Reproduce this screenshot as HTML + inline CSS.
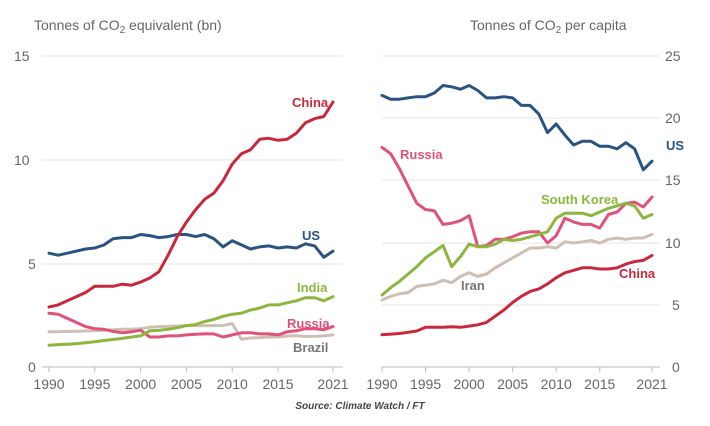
<!DOCTYPE html>
<html><head><meta charset="utf-8"><style>
body{margin:0;background:#fff;}
svg text{font-family:"Liberation Sans",sans-serif;}
</style></head><body>
<svg id="s" width="710" height="421" xmlns="http://www.w3.org/2000/svg">
<g fill="#666" font-size="14">
<text x="34" y="30">Tonnes of CO<tspan font-size="10" dy="3">2</tspan><tspan dy="-3"> equivalent (bn)</tspan></text>
<text x="470" y="30">Tonnes of CO<tspan font-size="10" dy="3">2</tspan><tspan dy="-3"> per capita</tspan></text>
</g>
<g stroke="#e6e6e6" stroke-width="1">
<line x1="42" x2="343" y1="56" y2="56"/><line x1="42" x2="343" y1="160" y2="160"/><line x1="42" x2="343" y1="264" y2="264"/>
<line x1="382" x2="660" y1="56" y2="56"/><line x1="382" x2="660" y1="118" y2="118"/><line x1="382" x2="660" y1="180" y2="180"/><line x1="382" x2="660" y1="243" y2="243"/><line x1="382" x2="660" y1="305" y2="305"/>
</g>
<g stroke="#bbb" stroke-width="1">
<line x1="42" x2="343" y1="367" y2="367"/><line x1="382" x2="660" y1="367" y2="367"/>
</g>
<g fill="#666" font-size="14">
<text x="14" y="61">15</text><text x="14" y="165">10</text><text x="28" y="269">5</text><text x="28" y="372">0</text>
<text x="665" y="61">25</text><text x="665" y="123">20</text><text x="665" y="185">15</text><text x="665" y="248">10</text><text x="672" y="310">5</text><text x="672" y="372">0</text>
</g>
<g id="xt" fill="#666" font-size="14" text-anchor="middle"></g>
<g id="lines" fill="none" stroke-width="3" stroke-linejoin="round" stroke-linecap="round"></g>
<g font-size="13" font-weight="bold">
<text x="292" y="107" fill="#c8283c">China</text>
<text x="302" y="240" fill="#2a5283">US</text>
<text x="297" y="292" fill="#8db63f">India</text>
<text x="287" y="328" fill="#e0527a">Russia</text>
<text x="293" y="352" fill="#777">Brazil</text>
<text x="400" y="159" fill="#e0527a">Russia</text>
<text x="541" y="204" fill="#8db63f">South Korea</text>
<text x="461" y="290" fill="#777">Iran</text>
<text x="619" y="278" fill="#c8283c">China</text>
<text x="666" y="150" fill="#2a5283">US</text>
</g>
<text x="360" y="409" font-size="10" font-style="italic" font-weight="bold" fill="#444" text-anchor="middle">Source: Climate Watch / FT</text>
</svg>
<script>
var ns="http://www.w3.org/2000/svg";
function add(p,tag,a,t){var e=document.createElementNS(ns,tag);for(var k in a)e.setAttribute(k,a[k]);if(t)e.textContent=t;p.appendChild(e);}
var xt=document.getElementById('xt'),L=document.getElementById('lines');
[[49,333],[382,652]].forEach(function(r){
 var yrs=[1990,1995,2000,2005,2010,2015,2021];
 yrs.forEach(function(y){var x=r[0]+(y-1990)*(r[1]-r[0])/31;add(xt,'text',{x:x,y:389},String(y));add(L,'line',{x1:x,x2:x,y1:367,y2:372,stroke:'#bbb','stroke-width':1});});
});
function line(d,x0,x1,y0,k,c){var pts=d.map(function(v,i){return (x0+i*(x1-x0)/31).toFixed(1)+','+(y0-v*k).toFixed(1);});add(L,'polyline',{points:pts.join(' '),stroke:c});}
var C='#c8283c',U='#2a5283',I='#8db63f',R='#e0527a',B='#cdbfb3';
var lk=20.7,rk=12.4;
line([1.7,1.7,1.72,1.73,1.74,1.76,1.78,1.8,1.82,1.83,1.85,1.92,1.95,1.96,1.98,2.0,2.0,2.0,2.0,2.0,2.1,1.35,1.4,1.42,1.45,1.45,1.5,1.5,1.48,1.48,1.5,1.55],49,333,367,lk,B);
line([2.6,2.55,2.35,2.15,1.95,1.85,1.82,1.72,1.65,1.7,1.78,1.45,1.45,1.5,1.5,1.55,1.58,1.6,1.6,1.45,1.55,1.65,1.65,1.6,1.6,1.55,1.7,1.75,1.85,1.85,1.8,1.95],49,333,367,lk,R);
line([1.05,1.08,1.1,1.13,1.17,1.22,1.28,1.33,1.38,1.45,1.5,1.75,1.77,1.82,1.9,2.0,2.05,2.2,2.3,2.45,2.55,2.6,2.75,2.85,3.0,3.0,3.1,3.2,3.35,3.35,3.2,3.4],49,333,367,lk,I);
line([5.5,5.4,5.5,5.6,5.7,5.75,5.9,6.2,6.25,6.25,6.4,6.35,6.25,6.3,6.4,6.4,6.3,6.4,6.2,5.8,6.1,5.9,5.7,5.8,5.85,5.75,5.8,5.75,5.95,5.85,5.3,5.6],49,333,367,lk,U);
line([2.9,3.0,3.2,3.4,3.6,3.9,3.9,3.9,4.0,3.95,4.1,4.3,4.6,5.4,6.3,7.0,7.6,8.1,8.4,9.0,9.8,10.3,10.5,11.0,11.05,10.95,11.0,11.3,11.8,12.0,12.1,12.8],49,333,367,lk,C);
line([5.4,5.7,5.9,6.0,6.5,6.6,6.7,7.0,6.8,7.3,7.6,7.3,7.5,8.0,8.4,8.8,9.2,9.6,9.6,9.7,9.6,10.1,10.0,10.1,10.2,10.0,10.3,10.4,10.3,10.4,10.4,10.7],382,652,367,rk,B);
line([2.6,2.65,2.7,2.8,2.9,3.2,3.2,3.2,3.25,3.2,3.3,3.4,3.6,4.1,4.6,5.2,5.7,6.1,6.3,6.7,7.2,7.6,7.8,8.0,8.0,7.9,7.9,8.0,8.3,8.5,8.6,9.0],382,652,367,rk,C);
line([17.7,17.2,16.0,14.6,13.2,12.7,12.6,11.5,11.6,11.8,12.2,9.7,9.8,10.3,10.3,10.5,10.8,10.9,10.9,10.0,10.6,12.0,11.7,11.5,11.5,11.2,12.3,12.5,13.2,13.3,12.9,13.7],382,652,367,rk,R);
line([5.8,6.4,6.9,7.5,8.1,8.8,9.3,9.8,8.1,8.9,9.9,9.7,9.7,9.9,10.3,10.2,10.3,10.5,10.7,10.9,12.0,12.4,12.4,12.4,12.2,12.5,12.8,13.0,13.2,13.0,12.0,12.3],382,652,367,rk,I);
line([21.9,21.6,21.6,21.7,21.8,21.8,22.1,22.7,22.6,22.4,22.7,22.3,21.7,21.7,21.8,21.7,21.1,21.1,20.4,18.9,19.6,18.7,17.9,18.2,18.2,17.8,17.8,17.6,18.1,17.6,15.9,16.6],382,652,367,rk,U);
</script>
</body></html>
